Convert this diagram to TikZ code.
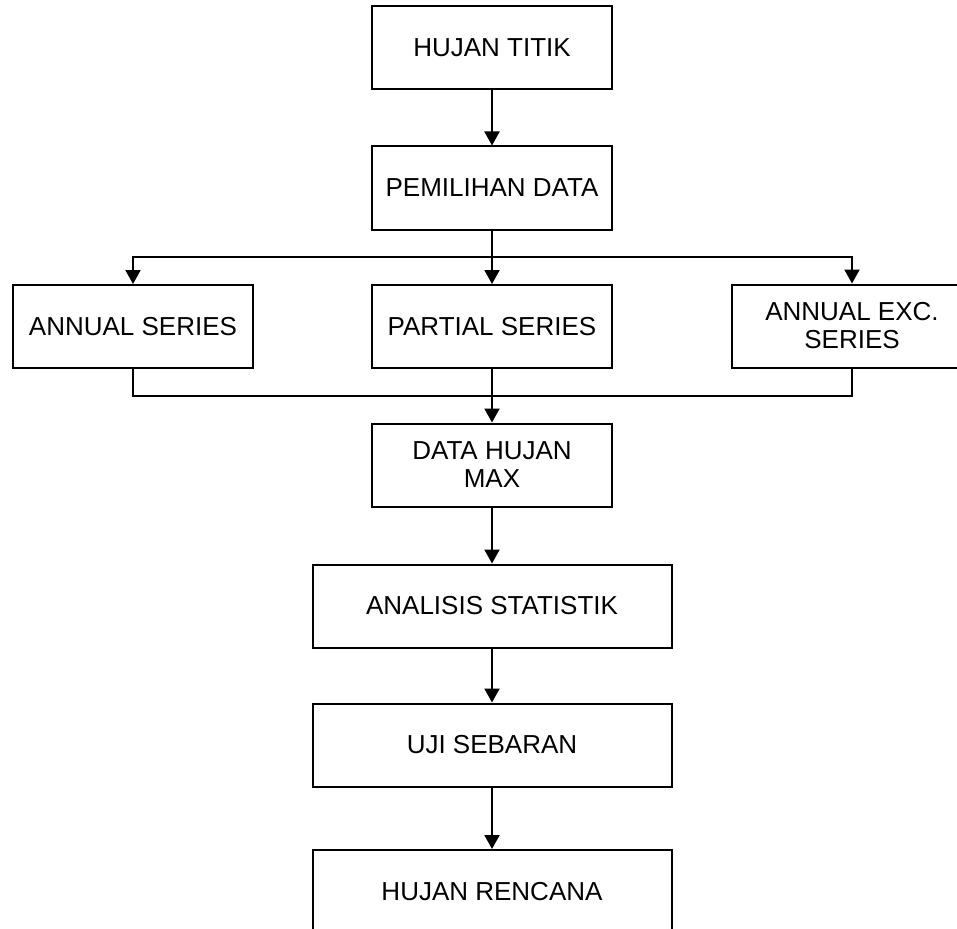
\documentclass[tikz,border=0pt]{standalone}
\usepackage{fontspec}
\setmainfont{Liberation Sans}
\usetikzlibrary{arrows.meta}

\tikzset{
    box/.style={draw, line width=2pt, minimum width=240pt, minimum height=83pt, inner sep=0pt, align=center, font=\fontsize{26}{28}\selectfont},
    widebox/.style={box, minimum width=359pt},
    flow/.style={line width=2pt, -{Triangle[width=15pt,length=14pt]}},
    line/.style={line width=2pt}
}

\begin{document}
\begin{tikzpicture}[x=1pt, y=-1pt]
    \clip (0,0) rectangle (957,928);
    \fill[white] (0,0) rectangle (957,928);

    \node[box] (titik) at (492,48) {HUJAN TITIK};
    \node[box] (pilih) at (492,188) {PEMILIHAN DATA};

    \node[box] (annual) at (133,326.5) {ANNUAL SERIES};
    \node[box] (partial) at (492,326.5) {PARTIAL SERIES};
    \node[box] (exc) at (852,326) {ANNUAL EXC.\\SERIES};

    \node[box] (maxdata) at (492,465) {DATA HUJAN\\MAX};
    \node[widebox] (statistik) at (492,606) {ANALISIS STATISTIK};
    \node[widebox] (sebaran) at (492,745) {UJI SEBARAN};
    \node[widebox] (rencana) at (492,891.5) {HUJAN RENCANA};

    \coordinate (split) at (492,257);
    \coordinate (join) at (492,396);

    \draw[flow] (titik) -- (pilih);

    % branch to the three series
    \draw[line] (pilih) -- (split);
    \draw[flow] (split) -| (annual.north);
    \draw[flow] (split) -| (exc.north);
    \draw[flow] (split) -- (partial);

    % back together
    \draw[line] (annual.south) |- (join);
    \draw[line] (exc.south) |- (join);
    \draw[flow] (partial) -- (maxdata);

    \draw[flow] (maxdata) -- (statistik);
    \draw[flow] (statistik) -- (sebaran);
    \draw[flow] (sebaran) -- (rencana);
\end{tikzpicture}
\end{document}
